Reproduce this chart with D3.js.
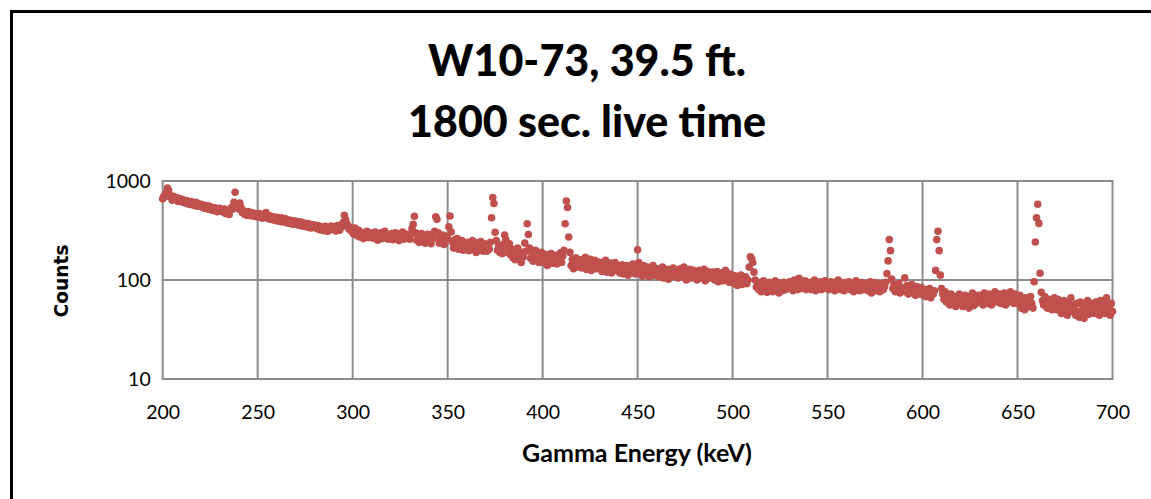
<!DOCTYPE html>
<html>
<head>
<meta charset="utf-8">
<script src="https://cdn.jsdelivr.net/npm/d3@7"></script>
<style>
  html, body { margin: 0; padding: 0; background: #fff; }
  svg { display: block; }
</style>
</head>
<body>
<svg id="chart" width="1151" height="499"></svg>
<script>
// Gamma spectrum, W10-73 at 39.5 ft, 1800 s live time.
// Channel calibration: first channel energy and keV per channel.
const energyStart = 200;
const keVPerChannel = 0.625;

// Counts per channel, 16 channels (10 keV) per row, 200 keV to 700 keV.
const counts = [
  660, 705, 690, 760, 850, 800, 720, 680, 640, 700, 690, 650, 675, 620, 665, 630,
  655, 610, 640, 600, 635, 590, 615, 580, 620, 575, 600, 565, 610, 555, 590, 570,
  580, 545, 570, 530, 565, 550, 520, 560, 540, 510, 540, 500, 535, 520, 490, 520,
  530, 495, 515, 485, 520, 470, 505, 480, 460, 510, 540, 520, 610, 770, 580, 560,
  520, 600, 540, 480, 500, 460, 485, 450, 490, 470, 445, 480, 460, 440, 470, 435,
  455, 470, 430, 460, 420, 450, 440, 480, 430, 415, 445, 410, 438, 405, 430, 400,
  430, 395, 420, 390, 425, 385, 410, 418, 380, 405, 375, 400, 370, 398, 365, 392,
  395, 370, 360, 388, 355, 382, 350, 375, 365, 345, 372, 340, 366, 335, 362, 350,
  360, 335, 355, 326, 350, 320, 345, 335, 315, 348, 325, 310, 340, 320, 350, 330,
  345, 322, 312, 355, 335, 318, 360, 345, 380, 450, 410, 372, 350, 325, 340, 310,
  320, 290, 335, 300, 280, 318, 272, 305, 290, 262, 298, 280, 310, 268, 292, 276,
  298, 265, 288, 305, 270, 252, 292, 276, 300, 262, 284, 310, 268, 290, 258, 280,
  270, 295, 255, 285, 300, 262, 280, 250, 292, 270, 305, 258, 282, 264, 290, 272,
  258, 290, 330, 365, 440, 300, 252, 285, 240, 270, 295, 248, 278, 235, 262, 290,
  245, 275, 232, 290, 262, 311, 436, 410, 300, 235, 268, 250, 285, 228, 258, 275,
  262, 345, 443, 305, 240, 210, 255, 228, 262, 205, 240, 218, 250, 200, 232, 222,
  212, 240, 198, 230, 215, 250, 205, 225, 190, 238, 212, 200, 245, 220, 195, 232,
  218, 195, 230, 205, 240, 426, 682, 592, 303, 250, 200, 225, 190, 215, 185, 230,
  285, 256, 212, 190, 232, 180, 205, 168, 198, 160, 185, 210, 165, 175, 150, 190,
  172, 236, 195, 370, 288, 210, 165, 185, 155, 178, 200, 162, 182, 150, 170, 190,
  175, 150, 182, 160, 140, 172, 155, 185, 148, 165, 158, 178, 145, 170, 160, 188,
  150, 175, 200, 370, 629, 539, 272, 190, 140, 162, 130, 155, 168, 135, 150, 145,
  160, 132, 155, 145, 170, 128, 150, 138, 162, 125, 148, 140, 158, 130, 145, 152,
  135, 150, 122, 145, 130, 158, 120, 140, 132, 148, 118, 138, 128, 150, 125, 140,
  135, 118, 128, 142, 115, 130, 122, 140, 112, 128, 136, 120, 145, 125, 115, 138,
  202, 150, 118, 132, 110, 140, 125, 115, 135, 120, 108, 130, 122, 140, 112, 125,
  118, 130, 108, 125, 115, 135, 105, 122, 112, 128, 102, 118, 125, 110, 132, 115,
  112, 125, 105, 120, 130, 108, 118, 135, 110, 100, 122, 115, 128, 105, 118, 125,
  108, 120, 100, 115, 125, 105, 118, 110, 128, 98, 112, 122, 104, 115, 108, 120,
  115, 100, 108, 122, 96, 112, 105, 118, 98, 110, 125, 102, 108, 95, 115, 104,
  100, 92, 110, 98, 88, 105, 95, 112, 90, 102, 96, 108, 92, 100, 135, 172,
  165, 150, 120, 100, 85, 95, 80, 92, 76, 88, 98, 82, 90, 75, 86, 95,
  82, 92, 76, 88, 98, 80, 85, 74, 92, 84, 78, 95, 86, 80, 90, 84,
  96, 84, 90, 78, 100, 86, 92, 80, 104, 88, 82, 94, 86, 98, 80, 90,
  84, 95, 80, 90, 86, 100, 78, 92, 84, 88, 96, 80, 90, 85, 98, 82,
  92, 80, 88, 96, 82, 90, 78, 95, 86, 100, 84, 80, 92, 86, 78, 94,
  90, 82, 96, 80, 88, 92, 76, 86, 98, 82, 90, 78, 88, 94, 80, 86,
  80, 92, 78, 86, 96, 74, 88, 82, 94, 78, 86, 90, 76, 84, 92, 80,
  86, 95, 116, 156, 256, 198, 102, 82, 90, 76, 86, 80, 92, 74, 84, 78,
  82, 105, 76, 88, 72, 84, 78, 90, 74, 82, 70, 86, 76, 80, 72, 84,
  76, 70, 80, 68, 78, 72, 82, 66, 76, 72, 78, 125, 256, 311, 198, 112,
  82, 72, 64, 76, 60, 70, 66, 56, 72, 62, 58, 68, 54, 66, 60, 72,
  58, 66, 54, 64, 70, 56, 62, 52, 68, 60, 74, 55, 64, 58, 70, 62,
  70, 60, 66, 56, 74, 62, 68, 58, 72, 64, 56, 70, 62, 76, 60, 66,
  62, 72, 58, 68, 64, 74, 56, 66, 70, 60, 76, 62, 68, 58, 72, 64,
  66, 58, 70, 52, 64, 60, 50, 66, 56, 62, 54, 68, 58, 52, 96, 242,
  426, 582, 373, 117, 75, 62, 56, 68, 58, 52, 64, 56, 60, 50, 62, 66,
  58, 50, 64, 54, 60, 46, 56, 62, 50, 58, 44, 60, 52, 66, 48, 56,
  50, 44, 58, 48, 42, 60, 46, 54, 41, 56, 50, 62, 45, 52, 58, 48,
  54, 46, 60, 50, 56, 44, 62, 52, 48, 58, 46, 66, 50, 55, 44, 58,
  48
];

const xTicks = [200, 250, 300, 350, 400, 450, 500, 550, 600, 650, 700];
const yTicks = [10, 100, 1000];
const titleLines = ["W10-73, 39.5 ft.", "1800 sec. live time"];
const xTitle = "Gamma Energy (keV)";
const yTitle = "Counts";

const points = counts.map((c, i) => ({ e: energyStart + i * keVPerChannel, c }));

const svg = d3.select("#chart");
const FONT = "Lato, 'Open Sans', sans-serif";
const gridColor = "#8c8c8c";
const dotColor = "#c0504d";

const x = d3.scaleLinear().domain([200, 700]).range([162.7, 1112.5]);
const y = d3.scaleLog().domain([10, 1000]).range([379, 181]);

// Outer frame
svg.append("rect")
  .attr("x", 11.5).attr("y", 11.5)
  .attr("width", 1300).attr("height", 700)
  .attr("fill", "none").attr("stroke", "#000").attr("stroke-width", 3);

// Helper: size a text element so its rendered width matches a target
function fitWidth(sel, target) {
  const node = sel.node();
  const fs = parseFloat(sel.attr("font-size"));
  const w = node.getComputedTextLength();
  if (w > 0) sel.attr("font-size", fs * target / w);
}

// Title
const t1 = svg.append("text").attr("x", 587).attr("y", 76)
  .attr("text-anchor", "middle").attr("font-family", FONT)
  .attr("font-weight", 900).attr("font-size", 36).text(titleLines[0]);
fitWidth(t1, 318);
const t2 = svg.append("text").attr("x", 587).attr("y", 137)
  .attr("text-anchor", "middle").attr("font-family", FONT)
  .attr("font-weight", 900).attr("font-size", 36).text(titleLines[1]);
fitWidth(t2, 358);

// Gridlines
const grid = svg.append("g");
grid.selectAll("line.v").data(xTicks).join("line")
  .attr("x1", d => x(d)).attr("x2", d => x(d))
  .attr("y1", y(1000)).attr("y2", y(10))
  .attr("stroke", gridColor).attr("stroke-width", 2);
grid.selectAll("line.h").data(yTicks).join("line")
  .attr("x1", x(200) - 1).attr("x2", x(700) + 1)
  .attr("y1", d => y(d)).attr("y2", d => y(d))
  .attr("stroke", gridColor).attr("stroke-width", 2);

// Axes (labels only; gridlines are drawn above)
const xAxis = d3.axisBottom(x).tickValues(xTicks).tickSize(0).tickPadding(26)
  .tickFormat(d3.format("d"));
const gx = svg.append("g").attr("transform", `translate(0,${y(10)})`).call(xAxis);
gx.select(".domain").remove();
gx.selectAll("text").attr("font-family", FONT).attr("font-size", 19.5).attr("fill", "#000");

const yAxis = d3.axisLeft(y).tickValues(yTicks).tickSize(0).tickPadding(12)
  .tickFormat(d3.format("d"));
const gy = svg.append("g").attr("transform", `translate(${x(200)},0)`).call(yAxis);
gy.select(".domain").remove();
gy.selectAll("text").attr("font-family", FONT).attr("font-size", 19.5).attr("fill", "#000");

// Axis titles
const xt = svg.append("text").attr("x", 637).attr("y", 462)
  .attr("text-anchor", "middle").attr("font-family", FONT)
  .attr("font-weight", "bold").attr("font-size", 20).text(xTitle);
fitWidth(xt, 230);
const yt = svg.append("text")
  .attr("transform", "translate(68,281) rotate(-90)")
  .attr("text-anchor", "middle").attr("font-family", "'DejaVu Sans', sans-serif")
  .attr("font-weight", "bold").attr("font-size", 18).text(yTitle);
fitWidth(yt, 73);

// Data points
svg.append("g").selectAll("circle").data(points).join("circle")
  .attr("cx", d => x(d.e)).attr("cy", d => y(d.c))
  .attr("r", 3.8).attr("fill", dotColor);
</script>
</body>
</html>
